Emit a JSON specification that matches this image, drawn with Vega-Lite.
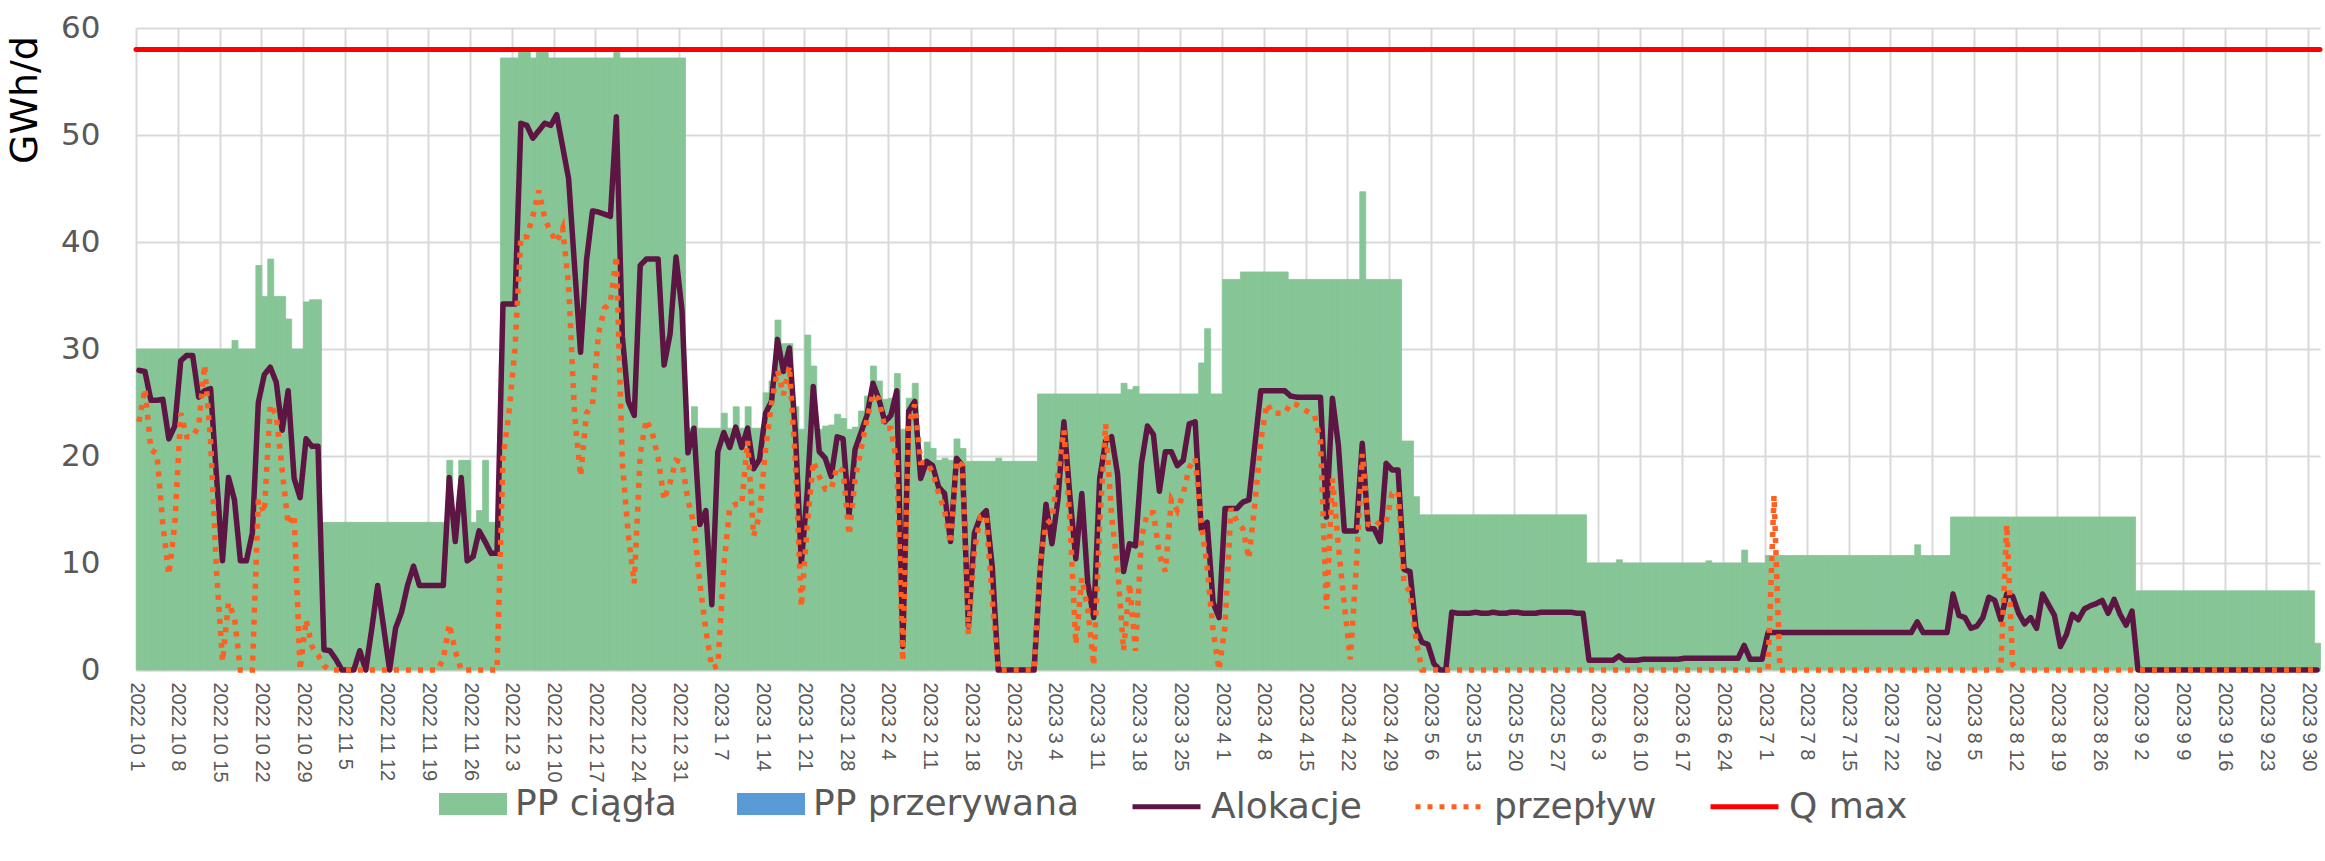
{
"$schema":"https://vega.github.io/schema/vega-lite/v6.json",
"width":2184,"height":642,
"autosize":{"type":"none"},
"padding":{"left":136,"top":28,"right":5,"bottom":191},
"title":{"text":"GWh/d","orient":"left","anchor":"end","frame":"group","fontSize":38,"fontWeight":"normal","color":"#000000","font":"DejaVu Sans","offset":16,"dx":-8},
"config":{"font":"DejaVu Sans","view":{"stroke":null},
"axis":{"gridColor":"#d9d9d9","gridWidth":2,"ticks":false,"labelColor":"#595959","domain":false},
"axisX":{"labelFont":"Liberation Sans","labelFontSize":20,"labelAngle":90,"labelPadding":12,"domain":true,"domainColor":"#d9d9d9","domainWidth":2,"labelOverlap":false,"labelFlush":false,"labelBound":false},
"axisY":{"labelFontSize":31,"labelPadding":36},
"legend":{"labelFontSize":36,"labelColor":"#595959","labelFont":"DejaVu Sans","labelLimit":500,"labelOffset":8,"padding":0}},
"data":{"values":[
{"date":"2022-10-01","pp":30,"al":28,"fl":23.2},
{"date":"2022-10-02","pp":30,"al":27.9,"fl":26.3},
{"date":"2022-10-03","pp":30,"al":25.2,"fl":20.6},
{"date":"2022-10-04","pp":30,"al":25.2,"fl":20.2},
{"date":"2022-10-05","pp":30,"al":25.3,"fl":13.6},
{"date":"2022-10-06","pp":30,"al":21.6,"fl":8.9},
{"date":"2022-10-07","pp":30,"al":22.8,"fl":13.6},
{"date":"2022-10-08","pp":30,"al":28.9,"fl":24},
{"date":"2022-10-09","pp":30,"al":29.4,"fl":21.8},
{"date":"2022-10-10","pp":30,"al":29.4,"fl":21.8},
{"date":"2022-10-11","pp":30,"al":25.5,"fl":22.8},
{"date":"2022-10-12","pp":30,"al":26.1,"fl":28.5},
{"date":"2022-10-13","pp":30,"al":26.3,"fl":21.4},
{"date":"2022-10-14","pp":30,"al":18,"fl":9.2},
{"date":"2022-10-15","pp":30,"al":10.2,"fl":0.8},
{"date":"2022-10-16","pp":30,"al":18,"fl":6.3},
{"date":"2022-10-17","pp":30.8,"al":15.9,"fl":4.9},
{"date":"2022-10-18","pp":30,"al":10.2,"fl":0},
{"date":"2022-10-19","pp":30,"al":10.2,"fl":0},
{"date":"2022-10-20","pp":30,"al":12.8,"fl":0},
{"date":"2022-10-21","pp":37.8,"al":25,"fl":15.9},
{"date":"2022-10-22","pp":34.9,"al":27.6,"fl":14.7},
{"date":"2022-10-23","pp":38.4,"al":28.3,"fl":24.8},
{"date":"2022-10-24","pp":34.9,"al":26.9,"fl":23.8},
{"date":"2022-10-25","pp":34.9,"al":22.4,"fl":18.7},
{"date":"2022-10-26","pp":32.8,"al":26.1,"fl":13.6},
{"date":"2022-10-27","pp":30,"al":17.9,"fl":14.5},
{"date":"2022-10-28","pp":30,"al":16.1,"fl":0},
{"date":"2022-10-29","pp":34.4,"al":21.6,"fl":4.7},
{"date":"2022-10-30","pp":34.6,"al":20.9,"fl":2.2},
{"date":"2022-10-31","pp":34.6,"al":20.9,"fl":1.4},
{"date":"2022-11-01","pp":13.8,"al":1.9,"fl":0.4},
{"date":"2022-11-02","pp":13.8,"al":1.8,"fl":0},
{"date":"2022-11-03","pp":13.8,"al":1,"fl":0},
{"date":"2022-11-04","pp":13.8,"al":0,"fl":0},
{"date":"2022-11-05","pp":13.8,"al":0,"fl":0},
{"date":"2022-11-06","pp":13.8,"al":0,"fl":0},
{"date":"2022-11-07","pp":13.8,"al":1.8,"fl":0},
{"date":"2022-11-08","pp":13.8,"al":0,"fl":0},
{"date":"2022-11-09","pp":13.8,"al":3.8,"fl":0},
{"date":"2022-11-10","pp":13.8,"al":7.9,"fl":0},
{"date":"2022-11-11","pp":13.8,"al":4,"fl":0},
{"date":"2022-11-12","pp":13.8,"al":0,"fl":0},
{"date":"2022-11-13","pp":13.8,"al":3.9,"fl":0},
{"date":"2022-11-14","pp":13.8,"al":5.4,"fl":0},
{"date":"2022-11-15","pp":13.8,"al":7.9,"fl":0},
{"date":"2022-11-16","pp":13.8,"al":9.7,"fl":0},
{"date":"2022-11-17","pp":13.8,"al":7.9,"fl":0},
{"date":"2022-11-18","pp":13.8,"al":7.9,"fl":0},
{"date":"2022-11-19","pp":13.8,"al":7.9,"fl":0},
{"date":"2022-11-20","pp":13.8,"al":7.9,"fl":0},
{"date":"2022-11-21","pp":13.8,"al":7.9,"fl":1},
{"date":"2022-11-22","pp":19.6,"al":18,"fl":4.3},
{"date":"2022-11-23","pp":13.8,"al":12,"fl":1.8},
{"date":"2022-11-24","pp":19.6,"al":18,"fl":0},
{"date":"2022-11-25","pp":19.6,"al":10.2,"fl":0},
{"date":"2022-11-26","pp":13.8,"al":10.6,"fl":0},
{"date":"2022-11-27","pp":14.9,"al":13,"fl":0},
{"date":"2022-11-28","pp":19.6,"al":12,"fl":0},
{"date":"2022-11-29","pp":13.8,"al":10.9,"fl":0},
{"date":"2022-11-30","pp":13.8,"al":10.9,"fl":0},
{"date":"2022-12-01","pp":57.2,"al":34.2,"fl":19.8},
{"date":"2022-12-02","pp":57.2,"al":34.2,"fl":24},
{"date":"2022-12-03","pp":57.2,"al":34.2,"fl":30},
{"date":"2022-12-04","pp":58,"al":51.1,"fl":40.5},
{"date":"2022-12-05","pp":58,"al":50.9,"fl":40.5},
{"date":"2022-12-06","pp":57.2,"al":49.7,"fl":42.4},
{"date":"2022-12-07","pp":58,"al":50.4,"fl":44.8},
{"date":"2022-12-08","pp":58,"al":51.1,"fl":42.2},
{"date":"2022-12-09","pp":57.2,"al":50.9,"fl":40.9},
{"date":"2022-12-10","pp":57.2,"al":51.9,"fl":40},
{"date":"2022-12-11","pp":57.2,"al":48.9,"fl":41.3},
{"date":"2022-12-12","pp":57.2,"al":45.9,"fl":36},
{"date":"2022-12-13","pp":57.2,"al":37.7,"fl":23.8},
{"date":"2022-12-14","pp":57.2,"al":29.7,"fl":18.1},
{"date":"2022-12-15","pp":57.2,"al":38.3,"fl":24},
{"date":"2022-12-16","pp":57.2,"al":42.9,"fl":24.8},
{"date":"2022-12-17","pp":57.2,"al":42.8,"fl":31.4},
{"date":"2022-12-18","pp":57.2,"al":42.6,"fl":33.8},
{"date":"2022-12-19","pp":57.2,"al":42.4,"fl":34.3},
{"date":"2022-12-20","pp":58,"al":51.7,"fl":38.7},
{"date":"2022-12-21","pp":57.2,"al":31.2,"fl":19.4},
{"date":"2022-12-22","pp":57.2,"al":25.1,"fl":12.6},
{"date":"2022-12-23","pp":57.2,"al":23.8,"fl":8.1},
{"date":"2022-12-24","pp":57.2,"al":37.8,"fl":20.2},
{"date":"2022-12-25","pp":57.2,"al":38.4,"fl":23.4},
{"date":"2022-12-26","pp":57.2,"al":38.4,"fl":22.2},
{"date":"2022-12-27","pp":57.2,"al":38.4,"fl":19.8},
{"date":"2022-12-28","pp":57.2,"al":28.5,"fl":15.9},
{"date":"2022-12-29","pp":57.2,"al":31.4,"fl":17.5},
{"date":"2022-12-30","pp":57.2,"al":38.6,"fl":19.6},
{"date":"2022-12-31","pp":57.2,"al":33.6,"fl":19.4},
{"date":"2023-01-01","pp":22.6,"al":20.3,"fl":15.9},
{"date":"2023-01-02","pp":24.6,"al":22.6,"fl":13.6},
{"date":"2023-01-03","pp":22.6,"al":13.6,"fl":8.1},
{"date":"2023-01-04","pp":22.6,"al":14.9,"fl":3.7},
{"date":"2023-01-05","pp":22.6,"al":6.1,"fl":0.2},
{"date":"2023-01-06","pp":22.6,"al":20.4,"fl":0.4},
{"date":"2023-01-07","pp":24,"al":22.2,"fl":9.6},
{"date":"2023-01-08","pp":22.6,"al":20.8,"fl":15.2},
{"date":"2023-01-09","pp":24.6,"al":22.7,"fl":15.5},
{"date":"2023-01-10","pp":22.6,"al":20.8,"fl":15.5},
{"date":"2023-01-11","pp":24.6,"al":22.6,"fl":21.4},
{"date":"2023-01-12","pp":22.6,"al":18.8,"fl":12.5},
{"date":"2023-01-13","pp":22.6,"al":19.7,"fl":14.5},
{"date":"2023-01-14","pp":25.9,"al":24,"fl":20.6},
{"date":"2023-01-15","pp":27,"al":25.1,"fl":24.9},
{"date":"2023-01-16","pp":32.7,"al":30.9,"fl":28},
{"date":"2023-01-17","pp":30.5,"al":27.9,"fl":25.7},
{"date":"2023-01-18","pp":30.5,"al":30.1,"fl":28.4},
{"date":"2023-01-19","pp":24.6,"al":22.2,"fl":19.4},
{"date":"2023-01-20","pp":22.5,"al":10,"fl":5.9},
{"date":"2023-01-21","pp":31.3,"al":16.7,"fl":13.6},
{"date":"2023-01-22","pp":28.4,"al":26.5,"fl":19.5},
{"date":"2023-01-23","pp":22.5,"al":20.4,"fl":18.1},
{"date":"2023-01-24","pp":22.8,"al":19.8,"fl":16.9},
{"date":"2023-01-25","pp":22.9,"al":18.1,"fl":16.9},
{"date":"2023-01-26","pp":23.9,"al":21.8,"fl":19},
{"date":"2023-01-27","pp":23.5,"al":21.6,"fl":18.6},
{"date":"2023-01-28","pp":22.5,"al":14.5,"fl":12.6},
{"date":"2023-01-29","pp":22.7,"al":20.6,"fl":17.7},
{"date":"2023-01-30","pp":24.2,"al":22.2,"fl":20.6},
{"date":"2023-01-31","pp":25.6,"al":23.8,"fl":23.4},
{"date":"2023-02-01","pp":28.4,"al":26.8,"fl":25.8},
{"date":"2023-02-02","pp":27,"al":25.3,"fl":25.3},
{"date":"2023-02-03","pp":25.3,"al":23.2,"fl":22.6},
{"date":"2023-02-04","pp":25.4,"al":23.8,"fl":22.6},
{"date":"2023-02-05","pp":27.7,"al":26.1,"fl":19.4},
{"date":"2023-02-06","pp":22.5,"al":2.2,"fl":0.8},
{"date":"2023-02-07","pp":25.4,"al":24.2,"fl":23},
{"date":"2023-02-08","pp":26.8,"al":25.1,"fl":24.8},
{"date":"2023-02-09","pp":19.6,"al":17.9,"fl":19.4},
{"date":"2023-02-10","pp":21.3,"al":19.5,"fl":19.4},
{"date":"2023-02-11","pp":20.7,"al":19.1,"fl":18.5},
{"date":"2023-02-12","pp":19.6,"al":17.1,"fl":16.5},
{"date":"2023-02-13","pp":19.8,"al":16.5,"fl":14.9},
{"date":"2023-02-14","pp":19.6,"al":12,"fl":11.8},
{"date":"2023-02-15","pp":21.6,"al":19.8,"fl":19.6},
{"date":"2023-02-16","pp":20.7,"al":19.1,"fl":19.1},
{"date":"2023-02-17","pp":19.5,"al":4.1,"fl":3.3},
{"date":"2023-02-18","pp":19.5,"al":12.8,"fl":11.2},
{"date":"2023-02-19","pp":19.5,"al":14.3,"fl":14.3},
{"date":"2023-02-20","pp":19.5,"al":14.9,"fl":14.4},
{"date":"2023-02-21","pp":19.5,"al":9.6,"fl":6.5},
{"date":"2023-02-22","pp":19.8,"al":0,"fl":0},
{"date":"2023-02-23","pp":19.5,"al":0,"fl":0},
{"date":"2023-02-24","pp":19.5,"al":0,"fl":0},
{"date":"2023-02-25","pp":19.5,"al":0,"fl":0},
{"date":"2023-02-26","pp":19.5,"al":0,"fl":0},
{"date":"2023-02-27","pp":19.5,"al":0,"fl":0},
{"date":"2023-02-28","pp":19.5,"al":0,"fl":0},
{"date":"2023-03-01","pp":25.8,"al":9.2,"fl":10},
{"date":"2023-03-02","pp":25.8,"al":15.5,"fl":13.6},
{"date":"2023-03-03","pp":25.8,"al":11.8,"fl":14.1},
{"date":"2023-03-04","pp":25.8,"al":15.9,"fl":18.3},
{"date":"2023-03-05","pp":25.8,"al":23.2,"fl":22.4},
{"date":"2023-03-06","pp":25.8,"al":16.3,"fl":14},
{"date":"2023-03-07","pp":25.8,"al":10.4,"fl":2.4},
{"date":"2023-03-08","pp":25.8,"al":16.5,"fl":8.6},
{"date":"2023-03-09","pp":25.8,"al":8.1,"fl":5.7},
{"date":"2023-03-10","pp":25.8,"al":4.9,"fl":0.4},
{"date":"2023-03-11","pp":25.8,"al":17.9,"fl":13.6},
{"date":"2023-03-12","pp":25.8,"al":21.4,"fl":23},
{"date":"2023-03-13","pp":25.8,"al":21.8,"fl":14.3},
{"date":"2023-03-14","pp":25.8,"al":18.3,"fl":9.6},
{"date":"2023-03-15","pp":26.8,"al":9.2,"fl":1.8},
{"date":"2023-03-16","pp":26.2,"al":11.8,"fl":8.1},
{"date":"2023-03-17","pp":26.5,"al":11.6,"fl":1.8},
{"date":"2023-03-18","pp":25.8,"al":19.3,"fl":12.4},
{"date":"2023-03-19","pp":25.8,"al":22.8,"fl":14.7},
{"date":"2023-03-20","pp":25.8,"al":22,"fl":14.7},
{"date":"2023-03-21","pp":25.8,"al":16.7,"fl":10.8},
{"date":"2023-03-22","pp":25.8,"al":20.4,"fl":9.2},
{"date":"2023-03-23","pp":25.8,"al":20.4,"fl":15.9},
{"date":"2023-03-24","pp":25.8,"al":19.1,"fl":14.9},
{"date":"2023-03-25","pp":25.8,"al":19.6,"fl":16.5},
{"date":"2023-03-26","pp":25.8,"al":23,"fl":18.9},
{"date":"2023-03-27","pp":25.8,"al":23.2,"fl":19.8},
{"date":"2023-03-28","pp":28.7,"al":13.2,"fl":13.9},
{"date":"2023-03-29","pp":31.9,"al":13.8,"fl":9.6},
{"date":"2023-03-30","pp":25.8,"al":6.3,"fl":3.7},
{"date":"2023-03-31","pp":25.8,"al":4.9,"fl":0},
{"date":"2023-04-01","pp":36.5,"al":15.1,"fl":4.1},
{"date":"2023-04-02","pp":36.5,"al":15.1,"fl":15.1},
{"date":"2023-04-03","pp":36.5,"al":15.1,"fl":13.9},
{"date":"2023-04-04","pp":37.2,"al":15.7,"fl":13.2},
{"date":"2023-04-05","pp":37.2,"al":15.9,"fl":10.4},
{"date":"2023-04-06","pp":37.2,"al":21,"fl":15.5},
{"date":"2023-04-07","pp":37.2,"al":26.1,"fl":21.4},
{"date":"2023-04-08","pp":37.2,"al":26.1,"fl":24.9},
{"date":"2023-04-09","pp":37.2,"al":26.1,"fl":24},
{"date":"2023-04-10","pp":37.2,"al":26.1,"fl":24},
{"date":"2023-04-11","pp":37.2,"al":26.1,"fl":24},
{"date":"2023-04-12","pp":36.5,"al":25.6,"fl":24.9},
{"date":"2023-04-13","pp":36.5,"al":25.5,"fl":24.8},
{"date":"2023-04-14","pp":36.5,"al":25.5,"fl":24.4},
{"date":"2023-04-15","pp":36.5,"al":25.5,"fl":24.1},
{"date":"2023-04-16","pp":36.5,"al":25.5,"fl":23.8},
{"date":"2023-04-17","pp":36.5,"al":25.5,"fl":21.4},
{"date":"2023-04-18","pp":36.5,"al":14.3,"fl":5.7},
{"date":"2023-04-19","pp":36.5,"al":25.4,"fl":17.9},
{"date":"2023-04-20","pp":36.5,"al":21,"fl":11.6},
{"date":"2023-04-21","pp":36.5,"al":13,"fl":6.1},
{"date":"2023-04-22","pp":36.5,"al":13,"fl":1},
{"date":"2023-04-23","pp":36.5,"al":13,"fl":9.6},
{"date":"2023-04-24","pp":44.7,"al":21.2,"fl":20.2},
{"date":"2023-04-25","pp":36.5,"al":13.2,"fl":13.6},
{"date":"2023-04-26","pp":36.5,"al":13.2,"fl":13.4},
{"date":"2023-04-27","pp":36.5,"al":12,"fl":13.9},
{"date":"2023-04-28","pp":36.5,"al":19.3,"fl":13.8},
{"date":"2023-04-29","pp":36.5,"al":18.7,"fl":16.5},
{"date":"2023-04-30","pp":36.5,"al":18.7,"fl":16.7},
{"date":"2023-05-01","pp":21.4,"al":9.4,"fl":8.1},
{"date":"2023-05-02","pp":21.4,"al":9.2,"fl":7.3},
{"date":"2023-05-03","pp":16.2,"al":3.9,"fl":2.9},
{"date":"2023-05-04","pp":14.5,"al":2.6,"fl":0},
{"date":"2023-05-05","pp":14.5,"al":2.4,"fl":0},
{"date":"2023-05-06","pp":14.5,"al":0.6,"fl":0},
{"date":"2023-05-07","pp":14.5,"al":0,"fl":0},
{"date":"2023-05-08","pp":14.5,"al":0,"fl":0},
{"date":"2023-05-09","pp":14.5,"al":5.4,"fl":0},
{"date":"2023-05-10","pp":14.5,"al":5.3,"fl":0},
{"date":"2023-05-11","pp":14.5,"al":5.3,"fl":0},
{"date":"2023-05-12","pp":14.5,"al":5.3,"fl":0},
{"date":"2023-05-13","pp":14.5,"al":5.4,"fl":0},
{"date":"2023-05-14","pp":14.5,"al":5.3,"fl":0},
{"date":"2023-05-15","pp":14.5,"al":5.3,"fl":0},
{"date":"2023-05-16","pp":14.5,"al":5.4,"fl":0},
{"date":"2023-05-17","pp":14.5,"al":5.3,"fl":0},
{"date":"2023-05-18","pp":14.5,"al":5.3,"fl":0},
{"date":"2023-05-19","pp":14.5,"al":5.4,"fl":0},
{"date":"2023-05-20","pp":14.5,"al":5.4,"fl":0},
{"date":"2023-05-21","pp":14.5,"al":5.3,"fl":0},
{"date":"2023-05-22","pp":14.5,"al":5.3,"fl":0},
{"date":"2023-05-23","pp":14.5,"al":5.3,"fl":0},
{"date":"2023-05-24","pp":14.5,"al":5.4,"fl":0},
{"date":"2023-05-25","pp":14.5,"al":5.4,"fl":0},
{"date":"2023-05-26","pp":14.5,"al":5.4,"fl":0},
{"date":"2023-05-27","pp":14.5,"al":5.4,"fl":0},
{"date":"2023-05-28","pp":14.5,"al":5.4,"fl":0},
{"date":"2023-05-29","pp":14.5,"al":5.4,"fl":0},
{"date":"2023-05-30","pp":14.5,"al":5.3,"fl":0},
{"date":"2023-05-31","pp":14.5,"al":5.3,"fl":0},
{"date":"2023-06-01","pp":10,"al":0.9,"fl":0},
{"date":"2023-06-02","pp":10,"al":0.9,"fl":0},
{"date":"2023-06-03","pp":10,"al":0.9,"fl":0},
{"date":"2023-06-04","pp":10,"al":0.9,"fl":0},
{"date":"2023-06-05","pp":10,"al":0.9,"fl":0},
{"date":"2023-06-06","pp":10.3,"al":1.3,"fl":0},
{"date":"2023-06-07","pp":10,"al":0.9,"fl":0},
{"date":"2023-06-08","pp":10,"al":0.9,"fl":0},
{"date":"2023-06-09","pp":10,"al":0.9,"fl":0},
{"date":"2023-06-10","pp":10,"al":1,"fl":0},
{"date":"2023-06-11","pp":10,"al":1,"fl":0},
{"date":"2023-06-12","pp":10,"al":1,"fl":0},
{"date":"2023-06-13","pp":10,"al":1,"fl":0},
{"date":"2023-06-14","pp":10,"al":1,"fl":0},
{"date":"2023-06-15","pp":10,"al":1,"fl":0},
{"date":"2023-06-16","pp":10,"al":1,"fl":0},
{"date":"2023-06-17","pp":10,"al":1.1,"fl":0},
{"date":"2023-06-18","pp":10,"al":1.1,"fl":0},
{"date":"2023-06-19","pp":10,"al":1.1,"fl":0},
{"date":"2023-06-20","pp":10,"al":1.1,"fl":0},
{"date":"2023-06-21","pp":10.2,"al":1.1,"fl":0},
{"date":"2023-06-22","pp":10,"al":1.1,"fl":0},
{"date":"2023-06-23","pp":10,"al":1.1,"fl":0},
{"date":"2023-06-24","pp":10,"al":1.1,"fl":0},
{"date":"2023-06-25","pp":10,"al":1.1,"fl":0},
{"date":"2023-06-26","pp":10,"al":1.1,"fl":0},
{"date":"2023-06-27","pp":11.2,"al":2.3,"fl":0},
{"date":"2023-06-28","pp":10,"al":1,"fl":0},
{"date":"2023-06-29","pp":10,"al":1,"fl":0},
{"date":"2023-06-30","pp":10,"al":1,"fl":0},
{"date":"2023-07-01","pp":10.7,"al":3.5,"fl":0},
{"date":"2023-07-02","pp":10.7,"al":3.5,"fl":16.3},
{"date":"2023-07-03","pp":10.7,"al":3.5,"fl":0},
{"date":"2023-07-04","pp":10.7,"al":3.5,"fl":0},
{"date":"2023-07-05","pp":10.7,"al":3.5,"fl":0},
{"date":"2023-07-06","pp":10.7,"al":3.5,"fl":0},
{"date":"2023-07-07","pp":10.7,"al":3.5,"fl":0},
{"date":"2023-07-08","pp":10.7,"al":3.5,"fl":0},
{"date":"2023-07-09","pp":10.7,"al":3.5,"fl":0},
{"date":"2023-07-10","pp":10.7,"al":3.5,"fl":0},
{"date":"2023-07-11","pp":10.7,"al":3.5,"fl":0},
{"date":"2023-07-12","pp":10.7,"al":3.5,"fl":0},
{"date":"2023-07-13","pp":10.7,"al":3.5,"fl":0},
{"date":"2023-07-14","pp":10.7,"al":3.5,"fl":0},
{"date":"2023-07-15","pp":10.7,"al":3.5,"fl":0},
{"date":"2023-07-16","pp":10.7,"al":3.5,"fl":0},
{"date":"2023-07-17","pp":10.7,"al":3.5,"fl":0},
{"date":"2023-07-18","pp":10.7,"al":3.5,"fl":0},
{"date":"2023-07-19","pp":10.7,"al":3.5,"fl":0},
{"date":"2023-07-20","pp":10.7,"al":3.5,"fl":0},
{"date":"2023-07-21","pp":10.7,"al":3.5,"fl":0},
{"date":"2023-07-22","pp":10.7,"al":3.5,"fl":0},
{"date":"2023-07-23","pp":10.7,"al":3.5,"fl":0},
{"date":"2023-07-24","pp":10.7,"al":3.5,"fl":0},
{"date":"2023-07-25","pp":10.7,"al":3.5,"fl":0},
{"date":"2023-07-26","pp":11.7,"al":4.5,"fl":0},
{"date":"2023-07-27","pp":10.7,"al":3.5,"fl":0},
{"date":"2023-07-28","pp":10.7,"al":3.5,"fl":0},
{"date":"2023-07-29","pp":10.7,"al":3.5,"fl":0},
{"date":"2023-07-30","pp":10.7,"al":3.5,"fl":0},
{"date":"2023-07-31","pp":10.7,"al":3.5,"fl":0},
{"date":"2023-08-01","pp":14.3,"al":7.1,"fl":0},
{"date":"2023-08-02","pp":14.3,"al":5.1,"fl":0},
{"date":"2023-08-03","pp":14.3,"al":4.9,"fl":0},
{"date":"2023-08-04","pp":14.3,"al":3.9,"fl":0},
{"date":"2023-08-05","pp":14.3,"al":4.1,"fl":0},
{"date":"2023-08-06","pp":14.3,"al":4.9,"fl":0},
{"date":"2023-08-07","pp":14.3,"al":6.8,"fl":0},
{"date":"2023-08-08","pp":14.3,"al":6.5,"fl":0},
{"date":"2023-08-09","pp":14.3,"al":4.7,"fl":0},
{"date":"2023-08-10","pp":14.3,"al":7.1,"fl":13.6},
{"date":"2023-08-11","pp":14.3,"al":6.9,"fl":0.5},
{"date":"2023-08-12","pp":14.3,"al":5.3,"fl":0},
{"date":"2023-08-13","pp":14.3,"al":4.3,"fl":0},
{"date":"2023-08-14","pp":14.3,"al":4.9,"fl":0},
{"date":"2023-08-15","pp":14.3,"al":3.9,"fl":0},
{"date":"2023-08-16","pp":14.3,"al":7.1,"fl":0},
{"date":"2023-08-17","pp":14.3,"al":6.1,"fl":0},
{"date":"2023-08-18","pp":14.3,"al":5.1,"fl":0},
{"date":"2023-08-19","pp":14.3,"al":2.2,"fl":0},
{"date":"2023-08-20","pp":14.3,"al":3.3,"fl":0},
{"date":"2023-08-21","pp":14.3,"al":5.2,"fl":0},
{"date":"2023-08-22","pp":14.3,"al":4.7,"fl":0},
{"date":"2023-08-23","pp":14.3,"al":5.7,"fl":0},
{"date":"2023-08-24","pp":14.3,"al":6,"fl":0},
{"date":"2023-08-25","pp":14.3,"al":6.2,"fl":0},
{"date":"2023-08-26","pp":14.3,"al":6.5,"fl":0},
{"date":"2023-08-27","pp":14.3,"al":5.3,"fl":0},
{"date":"2023-08-28","pp":14.3,"al":6.6,"fl":0},
{"date":"2023-08-29","pp":14.3,"al":5.2,"fl":0},
{"date":"2023-08-30","pp":14.3,"al":4.2,"fl":0},
{"date":"2023-08-31","pp":14.3,"al":5.5,"fl":0},
{"date":"2023-09-01","pp":7.4,"al":0,"fl":0},
{"date":"2023-09-02","pp":7.4,"al":0,"fl":0},
{"date":"2023-09-03","pp":7.4,"al":0,"fl":0},
{"date":"2023-09-04","pp":7.4,"al":0,"fl":0},
{"date":"2023-09-05","pp":7.4,"al":0,"fl":0},
{"date":"2023-09-06","pp":7.4,"al":0,"fl":0},
{"date":"2023-09-07","pp":7.4,"al":0,"fl":0},
{"date":"2023-09-08","pp":7.4,"al":0,"fl":0},
{"date":"2023-09-09","pp":7.4,"al":0,"fl":0},
{"date":"2023-09-10","pp":7.4,"al":0,"fl":0},
{"date":"2023-09-11","pp":7.4,"al":0,"fl":0},
{"date":"2023-09-12","pp":7.4,"al":0,"fl":0},
{"date":"2023-09-13","pp":7.4,"al":0,"fl":0},
{"date":"2023-09-14","pp":7.4,"al":0,"fl":0},
{"date":"2023-09-15","pp":7.4,"al":0,"fl":0},
{"date":"2023-09-16","pp":7.4,"al":0,"fl":0},
{"date":"2023-09-17","pp":7.4,"al":0,"fl":0},
{"date":"2023-09-18","pp":7.4,"al":0,"fl":0},
{"date":"2023-09-19","pp":7.4,"al":0,"fl":0},
{"date":"2023-09-20","pp":7.4,"al":0,"fl":0},
{"date":"2023-09-21","pp":7.4,"al":0,"fl":0},
{"date":"2023-09-22","pp":7.4,"al":0,"fl":0},
{"date":"2023-09-23","pp":7.4,"al":0,"fl":0},
{"date":"2023-09-24","pp":7.4,"al":0,"fl":0},
{"date":"2023-09-25","pp":7.4,"al":0,"fl":0},
{"date":"2023-09-26","pp":7.4,"al":0,"fl":0},
{"date":"2023-09-27","pp":7.4,"al":0,"fl":0},
{"date":"2023-09-28","pp":7.4,"al":0,"fl":0},
{"date":"2023-09-29","pp":7.4,"al":0,"fl":0},
{"date":"2023-09-30","pp":7.4,"al":0,"fl":0},
{"date":"2023-10-01","pp":2.5,"al":0,"fl":0}
]},
"layer":[
{"mark":{"type":"bar","binSpacing":0,"stroke":"#86c596","strokeWidth":0.8},
"encoding":{
"x":{"field":"date","type":"temporal","timeUnit":"utcyearmonthdate","title":null,
"scale":{"domain":[{"year":2022,"month":10,"date":1,"utc":true},{"year":2023,"month":10,"date":2,"utc":true}]},
"axis":{"labelExpr":"utcFormat(datum.value, '%Y %-m %-d')","values":[
{"year":2022,"month":10,"date":1,"utc":true},{"year":2022,"month":10,"date":8,"utc":true},{"year":2022,"month":10,"date":15,"utc":true},{"year":2022,"month":10,"date":22,"utc":true},{"year":2022,"month":10,"date":29,"utc":true},
{"year":2022,"month":11,"date":5,"utc":true},{"year":2022,"month":11,"date":12,"utc":true},{"year":2022,"month":11,"date":19,"utc":true},{"year":2022,"month":11,"date":26,"utc":true},
{"year":2022,"month":12,"date":3,"utc":true},{"year":2022,"month":12,"date":10,"utc":true},{"year":2022,"month":12,"date":17,"utc":true},{"year":2022,"month":12,"date":24,"utc":true},{"year":2022,"month":12,"date":31,"utc":true},
{"year":2023,"month":1,"date":7,"utc":true},{"year":2023,"month":1,"date":14,"utc":true},{"year":2023,"month":1,"date":21,"utc":true},{"year":2023,"month":1,"date":28,"utc":true},
{"year":2023,"month":2,"date":4,"utc":true},{"year":2023,"month":2,"date":11,"utc":true},{"year":2023,"month":2,"date":18,"utc":true},{"year":2023,"month":2,"date":25,"utc":true},
{"year":2023,"month":3,"date":4,"utc":true},{"year":2023,"month":3,"date":11,"utc":true},{"year":2023,"month":3,"date":18,"utc":true},{"year":2023,"month":3,"date":25,"utc":true},
{"year":2023,"month":4,"date":1,"utc":true},{"year":2023,"month":4,"date":8,"utc":true},{"year":2023,"month":4,"date":15,"utc":true},{"year":2023,"month":4,"date":22,"utc":true},{"year":2023,"month":4,"date":29,"utc":true},
{"year":2023,"month":5,"date":6,"utc":true},{"year":2023,"month":5,"date":13,"utc":true},{"year":2023,"month":5,"date":20,"utc":true},{"year":2023,"month":5,"date":27,"utc":true},
{"year":2023,"month":6,"date":3,"utc":true},{"year":2023,"month":6,"date":10,"utc":true},{"year":2023,"month":6,"date":17,"utc":true},{"year":2023,"month":6,"date":24,"utc":true},
{"year":2023,"month":7,"date":1,"utc":true},{"year":2023,"month":7,"date":8,"utc":true},{"year":2023,"month":7,"date":15,"utc":true},{"year":2023,"month":7,"date":22,"utc":true},{"year":2023,"month":7,"date":29,"utc":true},
{"year":2023,"month":8,"date":5,"utc":true},{"year":2023,"month":8,"date":12,"utc":true},{"year":2023,"month":8,"date":19,"utc":true},{"year":2023,"month":8,"date":26,"utc":true},
{"year":2023,"month":9,"date":2,"utc":true},{"year":2023,"month":9,"date":9,"utc":true},{"year":2023,"month":9,"date":16,"utc":true},{"year":2023,"month":9,"date":23,"utc":true},{"year":2023,"month":9,"date":30,"utc":true}]}},
"y":{"field":"pp","type":"quantitative","title":null,"scale":{"domain":[0,60],"nice":false},
"axis":{"values":[0,10,20,30,40,50,60]}},
"fill":{"datum":"PP ciągła","type":"nominal",
"scale":{"domain":["PP ciągła","PP przerywana"],"range":["#86c596","#5b9bd5"]},
"legend":{"orient":"none","legendX":303,"legendY":742,"direction":"horizontal","title":null,
"symbolType":"M-1,-0.32H1V0.32H-1Z","symbolSize":4624,"symbolStrokeWidth":0,"columnPadding":60}}}},
{"mark":{"type":"line","strokeWidth":5.5,"strokeJoin":"round","strokeCap":"round"},
"encoding":{
"x":{"field":"date","type":"temporal","timeUnit":"utcyearmonthdate","bandPosition":0.5,"title":null},
"y":{"field":"al","type":"quantitative","title":null},
"stroke":{"datum":"Alokacje","type":"nominal",
"scale":{"domain":["Alokacje","przepływ","Q max"],"range":["#5d1544","#ff5f20","#ff0000"]},
"legend":{"orient":"none","legendX":994,"legendY":742,"direction":"horizontal","title":null,
"symbolType":"stroke","symbolSize":4624,"symbolStrokeWidth":5,"columnPadding":43}},
"strokeDash":{"datum":"Alokacje","type":"nominal",
"scale":{"domain":["Alokacje","przepływ","Q max"],"range":[[1,0],[5,7],[1,0]]},
"legend":{"orient":"none","legendX":994,"legendY":742,"direction":"horizontal","title":null,
"symbolType":"stroke","symbolSize":4624,"symbolStrokeWidth":5,"columnPadding":43}}}},
{"mark":{"type":"line","strokeWidth":5.5,"strokeCap":"butt"},
"encoding":{
"x":{"field":"date","type":"temporal","timeUnit":"utcyearmonthdate","bandPosition":0.5,"title":null},
"y":{"field":"fl","type":"quantitative","title":null},
"stroke":{"datum":"przepływ","type":"nominal"},
"strokeDash":{"datum":"przepływ","type":"nominal"}}},
{"data":{"values":[{"qmax":58}]},
"mark":{"type":"rule","strokeWidth":5,"strokeCap":"round"},
"encoding":{
"y":{"field":"qmax","type":"quantitative","title":null},
"stroke":{"datum":"Q max","type":"nominal"},
"strokeDash":{"datum":"Q max","type":"nominal"}}}
]
}
